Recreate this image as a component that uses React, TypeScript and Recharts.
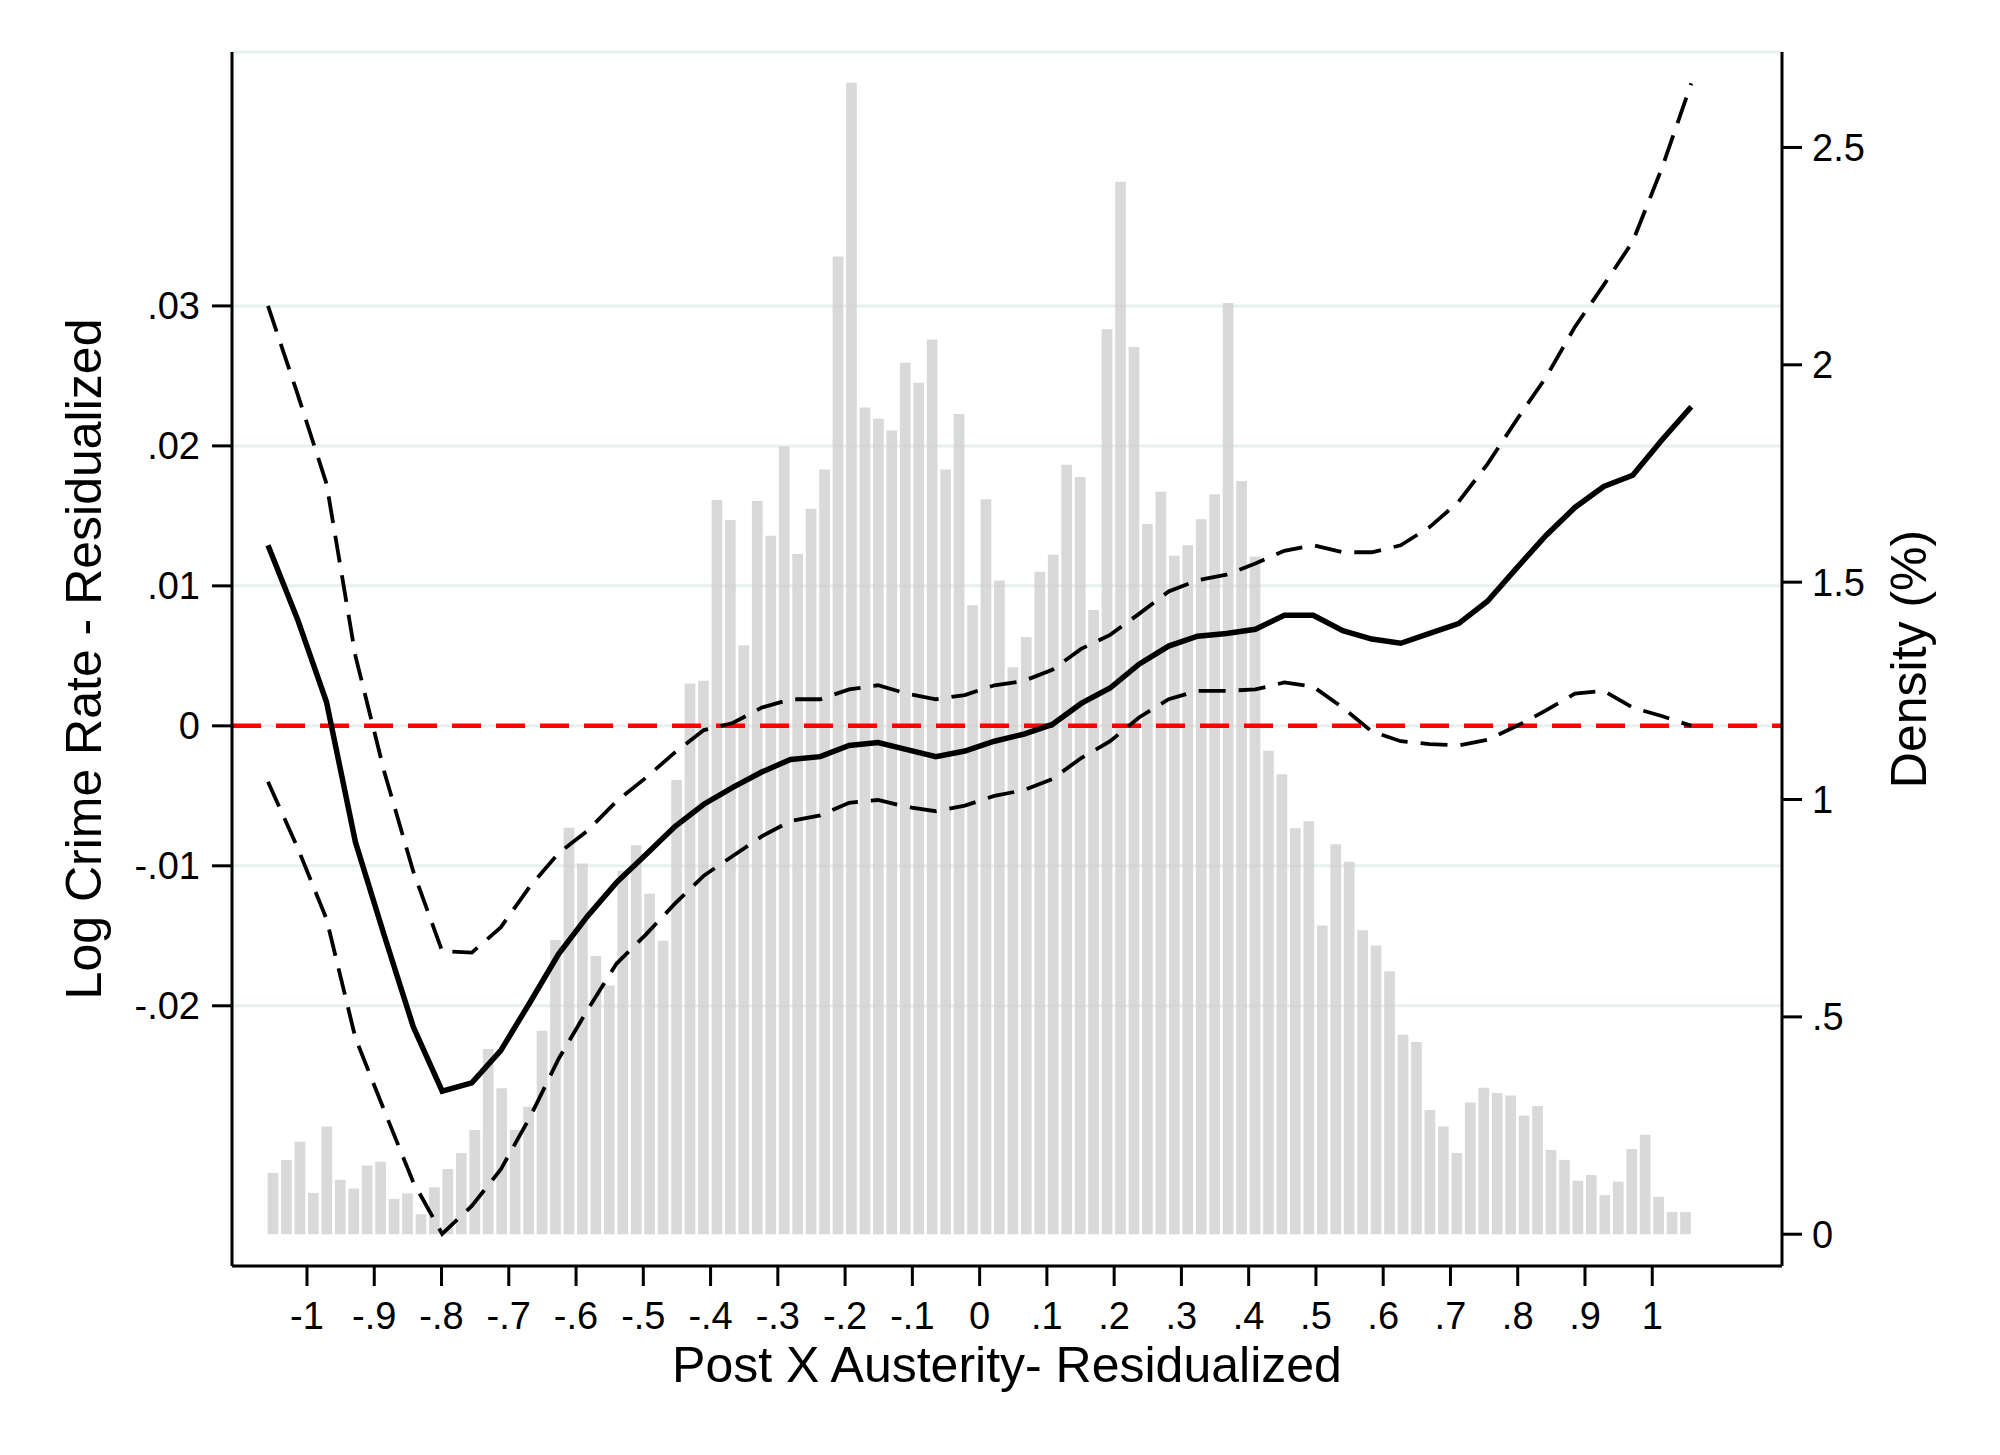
import {
  ComposedChart,
  Bar,
  Line,
  XAxis,
  YAxis,
  CartesianGrid,
  ReferenceLine,
} from 'recharts';

// histogram of Post X Austerity (bin centres, density in %)
const binX = [
  -1.05, -1.03, -1.01, -0.99, -0.97, -0.95, -0.93, -0.91, -0.89, -0.87,
  -0.85, -0.83, -0.81, -0.79, -0.77, -0.75, -0.73, -0.71, -0.69, -0.67,
  -0.65, -0.63, -0.61, -0.59, -0.57, -0.55, -0.53, -0.51, -0.49, -0.47,
  -0.45, -0.43, -0.41, -0.39, -0.37, -0.35, -0.33, -0.31, -0.29, -0.27,
  -0.25, -0.23, -0.21, -0.19, -0.17, -0.15, -0.13, -0.11, -0.09, -0.07,
  -0.05, -0.03, -0.01, 0.01, 0.03, 0.05, 0.07, 0.09, 0.11, 0.13,
  0.15, 0.17, 0.19, 0.21, 0.23, 0.25, 0.27, 0.29, 0.31, 0.33,
  0.35, 0.37, 0.39, 0.41, 0.43, 0.45, 0.47, 0.49, 0.51, 0.53,
  0.55, 0.57, 0.59, 0.61, 0.63, 0.65, 0.67, 0.69, 0.71, 0.73,
  0.75, 0.77, 0.79, 0.81, 0.83, 0.85, 0.87, 0.89, 0.91, 0.93,
  0.95, 0.97, 0.99, 1.01, 1.03, 1.05,
];

const density = [
  0.141, 0.171, 0.213, 0.095, 0.248, 0.125, 0.105, 0.158, 0.167, 0.081,
  0.094, 0.046, 0.108, 0.15, 0.187, 0.24, 0.426, 0.336, 0.24, 0.293,
  0.468, 0.677, 0.935, 0.853, 0.64, 0.572, 0.836, 0.895, 0.783, 0.675,
  1.045, 1.267, 1.273, 1.689, 1.643, 1.355, 1.687, 1.607, 1.812, 1.565,
  1.669, 1.759, 2.249, 2.649, 1.902, 1.876, 1.849, 2.005, 1.959, 2.058,
  1.759, 1.887, 1.447, 1.691, 1.504, 1.304, 1.374, 1.524, 1.563, 1.77,
  1.742, 1.436, 2.082, 2.421, 2.041, 1.634, 1.708, 1.561, 1.585, 1.645,
  1.702, 2.142, 1.733, 1.559, 1.112, 1.058, 0.934, 0.95, 0.71, 0.897,
  0.857, 0.699, 0.664, 0.605, 0.459, 0.442, 0.286, 0.248, 0.187, 0.303,
  0.337, 0.325, 0.319, 0.273, 0.295, 0.194, 0.171, 0.123, 0.136, 0.09,
  0.121, 0.196, 0.229, 0.086, 0.051, 0.051,
];

// local polynomial fit and 95% CI
const fitX = [
  -1.058, -1.014, -0.971, -0.928, -0.885, -0.842, -0.799, -0.755, -0.712, -0.669,
  -0.626, -0.583, -0.54, -0.496, -0.453, -0.41, -0.367, -0.324, -0.281, -0.237,
  -0.194, -0.151, -0.108, -0.065, -0.022, 0.022, 0.065, 0.108, 0.151, 0.194,
  0.237, 0.281, 0.324, 0.367, 0.41, 0.453, 0.496, 0.54, 0.583, 0.626,
  0.669, 0.712, 0.755, 0.799, 0.842, 0.885, 0.928, 0.971, 1.014, 1.058,
];

const fitMain = [
  0.0129, 0.0076, 0.0017, -0.0083, -0.015, -0.0215, -0.0261, -0.0255, -0.0232, -0.0198,
  -0.0163, -0.0136, -0.0112, -0.0092, -0.0072, -0.0056, -0.0044, -0.0033, -0.0024, -0.0022,
  -0.0014, -0.0012, -0.0017, -0.0022, -0.0018, -0.0011, -0.0006, 0.0001, 0.0016, 0.0027,
  0.0044, 0.0057, 0.0064, 0.0066, 0.0069, 0.0079, 0.0079, 0.0068, 0.0062, 0.0059,
  0.0066, 0.0073, 0.0089, 0.0113, 0.0136, 0.0156, 0.0171, 0.0179, 0.0204, 0.0228,
];

const fitUpper = [
  0.03, 0.0237, 0.0173, 0.005, -0.0033, -0.0104, -0.0161, -0.0162, -0.0144, -0.0115,
  -0.0091, -0.0075, -0.0054, -0.0037, -0.0019, -0.0003, 0.0002, 0.0013, 0.0019, 0.0019,
  0.0026, 0.0029, 0.0023, 0.0019, 0.0022, 0.0029, 0.0032, 0.004, 0.0055, 0.0065,
  0.008, 0.0096, 0.0104, 0.0108, 0.0116, 0.0125, 0.0129, 0.0124, 0.0124, 0.0129,
  0.0142, 0.016, 0.0187, 0.0219, 0.0249, 0.0285, 0.0315, 0.0346, 0.0398, 0.0459,
];

const fitLower = [
  -0.004, -0.0087, -0.0138, -0.0223, -0.0275, -0.0326, -0.0363, -0.0343, -0.0317, -0.028,
  -0.0238, -0.0203, -0.017, -0.0149, -0.0127, -0.0107, -0.0093, -0.0079, -0.0068, -0.0064,
  -0.0055, -0.0053, -0.0058, -0.0061, -0.0057, -0.005, -0.0046, -0.0038, -0.0023, -0.0011,
  0.0006, 0.0019, 0.0025, 0.0025, 0.0026, 0.0031, 0.0028, 0.0013, -0.0004, -0.0011,
  -0.0013, -0.0014, -0.001, 0, 0.0011, 0.0023, 0.0025, 0.0013, 0.0007, 0,
];

const xTicks = [-1, -0.9, -0.8, -0.7, -0.6, -0.5, -0.4, -0.3, -0.2, -0.1, 0, 0.1, 0.2, 0.3, 0.4, 0.5, 0.6, 0.7, 0.8, 0.9, 1];
const leftTicks = [-0.02, -0.01, 0, 0.01, 0.02, 0.03];
const rightTicks = [0, 0.5, 1, 1.5, 2, 2.5];

const binRows = binX.map((x, i) => ({ x, density: density[i] }));
const fitRows = fitX.map((x, i) => ({
  x,
  main: fitMain[i],
  upper: fitUpper[i],
  lower: fitLower[i],
}));

// Stata style: drop the leading zero
const stataNum = (v: number) => String(v).replace(/^(-?)0\./, '$1.');

const X_DOMAIN: [number, number] = [-1.1115, 1.1929];
const FONT = "'Liberation Sans', Arial, Helvetica, sans-serif";
const tickStyle = { fill: '#000', fontSize: 38, fontFamily: FONT };
const axisStroke = { stroke: '#000', strokeWidth: 3 };

export default function App() {
  return (
    <div style={{ position: 'absolute', left: 0, top: 0, width: 2000, height: 1455, background: '#fff' }}>
      <ComposedChart
        width={2000}
        height={1455}
        data={binRows}
        margin={{ top: 52, right: 0, bottom: 0, left: 0 }}
      >
        <CartesianGrid
          vertical={false}
          yAxisId="left"
          stroke="#e9eff1"
          strokeWidth={3}
        />
        <XAxis
          dataKey="x"
          type="number"
          domain={X_DOMAIN}
          allowDataOverflow
          ticks={xTicks}
          interval={0}
          tickFormatter={stataNum}
          height={189}
          tickSize={20}
          tickMargin={16}
          tick={tickStyle}
          axisLine={axisStroke}
          tickLine={axisStroke}
        />
        {/* separate hidden axis so the fit grid does not shrink the bars */}
        <XAxis
          xAxisId="fit"
          dataKey="x"
          type="number"
          domain={X_DOMAIN}
          allowDataOverflow
          hide
        />
        <YAxis
          yAxisId="left"
          type="number"
          domain={[-0.03859, 0.04814]}
          allowDataOverflow
          ticks={leftTicks}
          interval={0}
          tickFormatter={stataNum}
          width={232}
          tickSize={20}
          tickMargin={12}
          tick={tickStyle}
          axisLine={axisStroke}
          tickLine={axisStroke}
        />
        <YAxis
          yAxisId="right"
          orientation="right"
          type="number"
          domain={[-0.0731, 2.7196]}
          allowDataOverflow
          ticks={rightTicks}
          interval={0}
          tickFormatter={stataNum}
          width={218}
          tickSize={20}
          tickMargin={10}
          tick={tickStyle}
          axisLine={axisStroke}
          tickLine={axisStroke}
        />
        <Bar
          yAxisId="right"
          dataKey="density"
          fill="#cccccc"
          fillOpacity={0.75}
          barSize={10.7}
          isAnimationActive={false}
        />
        <ReferenceLine
          yAxisId="left"
          y={0}
          stroke="#ff0000"
          strokeWidth={4.5}
          strokeDasharray="29 15"
        />
        <Line
          xAxisId="fit"
          yAxisId="left"
          data={fitRows}
          dataKey="upper"
          type="linear"
          stroke="#000"
          strokeWidth={3.8}
          strokeDasharray="27 13"
          dot={false}
          activeDot={false}
          isAnimationActive={false}
        />
        <Line
          xAxisId="fit"
          yAxisId="left"
          data={fitRows}
          dataKey="lower"
          type="linear"
          stroke="#000"
          strokeWidth={3.8}
          strokeDasharray="27 13"
          dot={false}
          activeDot={false}
          isAnimationActive={false}
        />
        <Line
          xAxisId="fit"
          yAxisId="left"
          data={fitRows}
          dataKey="main"
          type="linear"
          stroke="#000"
          strokeWidth={5.5}
          dot={false}
          activeDot={false}
          isAnimationActive={false}
        />
      </ComposedChart>
      <svg
        width={2000}
        height={1455}
        style={{ position: 'absolute', left: 0, top: 0, pointerEvents: 'none' }}
        fontFamily={FONT}
        fontSize={50}
      >
        <text x={1007} y={1382} textAnchor="middle" fill="#000">
          Post X Austerity- Residualized
        </text>
        <text transform="translate(101,659) rotate(-90)" textAnchor="middle" fill="#000">
          Log Crime Rate - Residualized
        </text>
        <text transform="translate(1926,659) rotate(-90)" textAnchor="middle" fill="#000">
          Density (%)
        </text>
      </svg>
    </div>
  );
}
